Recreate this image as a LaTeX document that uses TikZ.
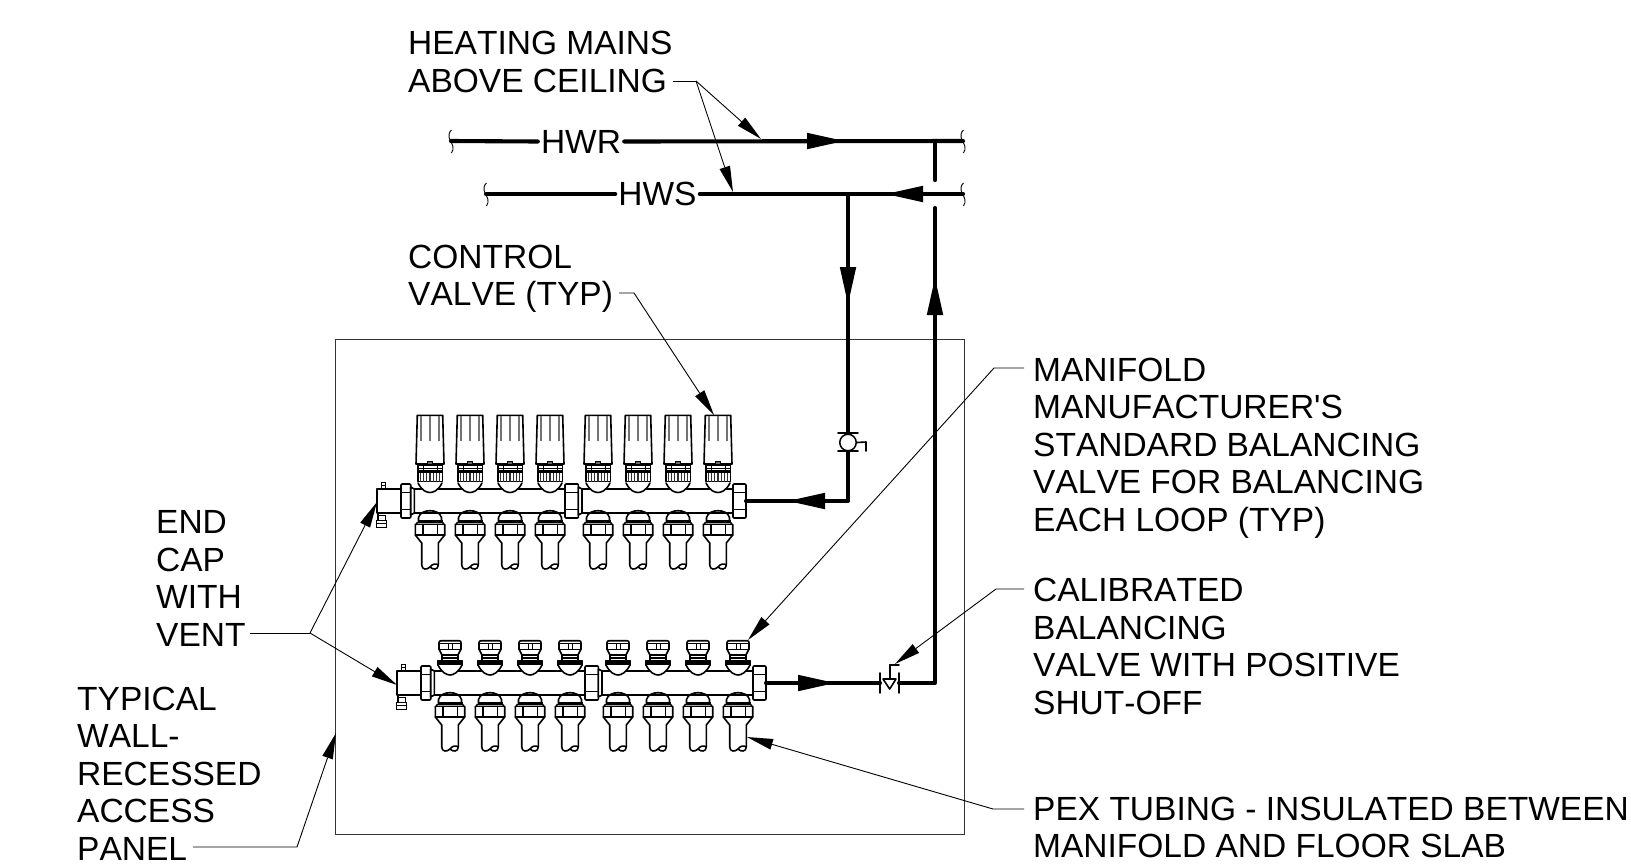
\documentclass[tikz,border=0pt]{standalone}
\usepackage{fontspec}
\setmainfont{Liberation Sans}[Ligatures=TeXOff,Kerning=Off]
\usetikzlibrary{arrows.meta}
\tikzset{
  x=1pt,y=-1pt,
  lbl/.style={anchor=base west,align=left,inner sep=0pt,font=\fontsize{33.5}{37.4}\selectfont},
  pipelbl/.style={inner xsep=3pt,inner ysep=0pt,font=\fontsize{33.5}{37.4}\selectfont},
  pipe/.style={line width=4.1pt,line cap=round,line join=round},
  flow/.style={pipe,-{Triangle[length=37pt,width=16.5pt,line width=0pt]}},
  leader/.style={line width=.9pt,line join=miter},
  leadtip/.style={leader,-{Triangle[length=26pt,width=11pt,line width=0pt]}},
  part/.style={line width=1.6pt,line join=round,line cap=round},
  fine/.style={line width=.9pt},
  wallbox/.style={line width=1pt,draw=black!80},
  pipebreak/.pic={\draw[fine] (.5,-11) .. controls (-2,-9) and (-3,-5) .. (-1,-1) .. controls (1,3) and (4,7) .. (.5,12);},
  tubeend/.pic={
    \fill[white] (-11,12.8) rectangle (11,20);
    \draw[part] (-11.5,20) -- (-11.5,16.5) .. controls (-10,11.5) and (-5,9.7) .. (0,9.7) .. controls (5,9.7) and (10,11.5) .. (11.5,16.5) -- (11.5,20);
    \draw[part,fill=white] (-14.7,24) -- (-12.5,21.5) -- (12.5,21.5) -- (14.7,24) -- (14.7,34) -- (8.3,42) -- (8.3,64)
      .. controls (8,69) and (3,69) .. (0,66) .. controls (-3,69) and (-8,69) .. (-8.3,64)
      -- (-8.3,42) -- (-14.7,34) -- cycle;
    \draw[part] (-14.7,23.5) -- (14.7,23.5) (-14.7,34) -- (14.7,34) (-7.3,23.5) -- (-7.3,34) (7.3,23.5) -- (7.3,34);
    \draw[line width=2.4pt] (-12.5,20.3) -- (12.5,20.3);
    \draw[part] (0,66) .. controls (2,63) and (6,62) .. (8.3,64);
  },
  ctrlvalve/.pic={
    \draw[part,fill=white] (-12.7,-85.7) -- (12.7,-85.7) -- (14,-37) -- (-14,-37) -- cycle;
    \foreach \r in {-9,0,9}{\draw[line width=1.6pt,draw=black!55] (\r,-85) -- (\r,-60);}
    \draw[fine,fill=black!60] (-2.5,-37) -- (-2.5,-40) -- (2.5,-40) -- (2.5,-37);
    \draw[part,fill=white] (-12.3,-35.5) rectangle (12.3,-19.5);
    \draw[line width=2.2pt] (-12.3,-29.5) -- (12.3,-29.5);
    \draw[line width=1.2pt] (-12.3,-32.5) -- (12.3,-32.5);
    \foreach \r in {-7,7}{\draw[fine] (\r,-35.5) -- (\r,-29.5);}
    \foreach \r in {-9.6,-6.4,-3.2,0,3.2,6.4,9.6}{\draw[line width=1.3pt,draw=black!80] (\r,-28.5) -- (\r,-19.5);}
    \fill[white] (-12,-18) .. controls (-8,-10) and (-3,-8.5) .. (0,-8.5) .. controls (3,-8.5) and (8,-10) .. (12,-18) -- cycle;
    \draw[part] (-12,-18) .. controls (-8,-10) and (-3,-8.5) .. (0,-8.5) .. controls (3,-8.5) and (8,-10) .. (12,-18);
  },
  capvalve/.pic={
    \draw[part,fill=white] (-9,-42.3) -- (9,-42.3) .. controls (10.5,-42.3) and (11,-41.5) .. (11,-40) -- (11,-34)
      -- (8,-28) -- (8,-22) -- (-8,-22) -- (-8,-28) -- (-11,-34) -- (-11,-40) .. controls (-11,-41.5) and (-10.5,-42.3) .. (-9,-42.3) -- cycle;
    \draw[part] (-11,-39.5) -- (11,-39.5) (-11,-33.5) -- (11,-33.5);
    \draw[fine] (-2,-39.5) -- (-2,-33.5) (2,-39.5) -- (2,-33.5);
    \draw[line width=1.8pt] (-8.5,-28) -- (8.5,-28) (-8.5,-25) -- (8.5,-25);
    \draw[part,fill=white] (-12.5,-22) -- (12.5,-22) -- (12.5,-18) -- (-12.5,-18) -- cycle;
    \draw[line width=2.8pt] (-12.5,-19.5) -- (12.5,-19.5);
    \fill[white] (-12,-18) .. controls (-8,-10) and (-3,-8) .. (0,-8) .. controls (3,-8) and (8,-10) .. (12,-18) -- cycle;
    \draw[part] (-12,-18) .. controls (-8,-10) and (-3,-8) .. (0,-8) .. controls (3,-8) and (8,-10) .. (12,-18);
  },
  manifoldbody/.pic={
    \draw[fine] (381,-13) rectangle (385.5,-18.5) (381,-16) -- (385.5,-16);
    \draw[fine] (376.5,19) rectangle (386,26) (376.5,22.5) -- (386,22.5);
    \draw[line width=1.6pt] (378,13) -- (378,18.5);
    \draw[fine] (378,14) rectangle (385,19);
    \draw[part,fill=white] (377,-12) rectangle (401,12);
    \foreach \n/\c in {401/414.3,565/582}{
      \draw[part,fill=white,rounded corners=1pt] (\n,-17) rectangle ({\c-3.6},17);
      \draw[part] (\n,-8.5) -- ({\c-3.6},-8.5) (\n,8.5) -- ({\c-3.6},8.5);
      \draw[part,fill=white] ({\c-3.6},-14) -- (\c,-12) -- (\c,12) -- ({\c-3.6},14) -- cycle;
    }
    \draw[part] (414.3,-12) -- (565,-12) (414.3,12) -- (565,12);
    \draw[part] (582,-12) -- (733,-12) (582,12) -- (733,12);
    \draw[part,fill=white,rounded corners=1pt] (733,-17) rectangle (746,17);
    \draw[part] (733,-8.5) -- (746,-8.5) (733,8.5) -- (746,8.5);
  }
}
\begin{document}
\begin{tikzpicture}
\useasboundingbox (0,0) rectangle (1631,865);

\node[wallbox,draw,inner sep=0pt,minimum width=629pt,minimum height=495pt,anchor=north west] (accesspanel) at (335,339) {};

\pic at (0,501) {manifoldbody};
\pic at (20,683) {manifoldbody};
\foreach \cx in {430,470,510,550,598,638,678,718}{
  \pic at (\cx,501) {tubeend};
  \pic at (\cx,501) {ctrlvalve};
  \pic at ({\cx+20},683) {tubeend};
  \pic at ({\cx+20},683) {capvalve};
}

\node[pipelbl] (HWR) at (581,141.5) {HWR};
\node[pipelbl] (HWS) at (657.5,194) {HWS};

\coordinate (hwrL) at (451,141);
\coordinate (hwrR) at (963,141);
\coordinate (hwsL) at (486,194);
\coordinate (hwsR) at (963,194);
\coordinate (hwrTip) at (844,141);
\coordinate (hwrBase) at (800,141);
\coordinate (hwsTip) at (886,194);
\coordinate (hwsBase) at (930,194);
\coordinate (dropTop) at (848,194);
\coordinate (dropBase) at (848,262);
\coordinate (dropTip) at (848,304);
\coordinate (bvUp) at (848,433);
\coordinate (bvDn) at (848,451);
\coordinate (corner1) at (848,501);
\coordinate (suppBase) at (830,501);
\coordinate (suppTip) at (788,501);
\coordinate (nutUp) at (746,501);
\coordinate (nutLo) at (766,683);
\coordinate (retBase) at (790,683);
\coordinate (retTip) at (835,683);
\coordinate (cbvL) at (880,683);
\coordinate (cbvR) at (899,683);
\coordinate (corner2) at (935,683);
\coordinate (upBase) at (935,320);
\coordinate (upTip) at (935,278);
\coordinate (riseTop) at (935,208);
\coordinate (crossBot) at (935,180);
\coordinate (crossTop) at (935,141);

\draw[pipe] (hwrL) -- (HWR.west);
\draw[pipe] (HWR.east) -- (hwrR);
\draw[flow] (hwrBase) -- (hwrTip);
\draw[pipe] (hwsL) -- (HWS.west);
\draw[pipe] (HWS.east) -- (hwsR);
\draw[flow] (hwsBase) -- (hwsTip);
\pic at (hwrL) {pipebreak};
\pic at (hwsL) {pipebreak};
\pic at (hwrR) {pipebreak};
\pic at (hwsR) {pipebreak};

\draw[pipe] (crossTop) -- (crossBot);
\draw[pipe] (dropTop) -- (bvUp);
\draw[flow] (dropBase) -- (dropTip);
\draw[pipe] (bvDn) -- (corner1) -- (nutUp);
\draw[flow] (suppBase) -- (suppTip);
\draw[pipe] (nutLo) -- (cbvL);
\draw[flow] (retBase) -- (retTip);
\draw[pipe] (cbvR) -- (corner2) -- (riseTop);
\draw[flow] (upBase) -- (upTip);

\node[circle,draw,line width=1.5pt,fill=white,minimum size=16.5pt,inner sep=0pt] (bvball) at (848,442.5) {};
\draw[part] (838,433) -- (858,433) (838,451) -- (858,451);
\coordinate (bvStem) at (866,442);
\coordinate (bvStemEnd) at (866,451);
\draw[part] (bvball.east) -- (bvStem) -- (bvStemEnd);

\coordinate (cvA) at (883,679);
\coordinate (cvB) at (896,679);
\coordinate (cvC) at (889.7,689);
\coordinate (cvS) at (889.7,665);
\coordinate (cvE) at (899,665);
\draw[part] (880,673) -- (880,693) (899,673) -- (899,693);
\draw[part] (cvA) -- (cvB) -- (cvC) -- cycle;
\draw[part] (cvS) -- (889.7,679);
\draw[part] (cvS) -- (cvE);

\node[lbl] (mains) at (408,92) {HEATING MAINS\\ABOVE CEILING};
\node[lbl] (ctrl) at (408,305.5) {CONTROL\\VALVE (TYP)};
\node[lbl] (mfr) at (1033,531) {MANIFOLD\\MANUFACTURER'S\\STANDARD BALANCING\\VALVE FOR BALANCING\\EACH LOOP (TYP)};
\node[lbl] (calib) at (1033,714) {CALIBRATED\\BALANCING\\VALVE WITH POSITIVE\\SHUT-OFF};
\node[lbl] (pex) at (1033,857.5) {PEX TUBING - INSULATED BETWEEN\\MANIFOLD AND FLOOR SLAB};
\node[lbl] (endcap) at (156,646) {END\\CAP\\WITH\\VENT};
\node[lbl] (typical) at (77,860) {TYPICAL\\WALL-\\RECESSED\\ACCESS\\PANEL};

\coordinate (m0) at (673,81); \coordinate (m1) at (696,81);
\coordinate (mt1) at (761,139); \coordinate (mt2) at (733,192);
\draw[leader] (m0) -- (m1);
\draw[leadtip] (m1) -- (mt1);
\draw[leadtip] (m1) -- (mt2);

\coordinate (c0) at (619,293); \coordinate (c1) at (634,293); \coordinate (ct) at (714,415);
\draw[leadtip] (c0) -- (c1) -- (ct);

\coordinate (f0) at (1024,368); \coordinate (f1) at (994,368); \coordinate (ft) at (748,640);
\draw[leadtip] (f0) -- (f1) -- (ft);

\coordinate (k0) at (1024,589); \coordinate (k1) at (996,589); \coordinate (kt) at (895,664);
\draw[leadtip] (k0) -- (k1) -- (kt);

\coordinate (p0) at (1024,809); \coordinate (p1) at (993,809); \coordinate (pt) at (747,737);
\draw[leadtip] (p0) -- (p1) -- (pt);

\coordinate (e0) at (250,633); \coordinate (e1) at (310,633);
\coordinate (et1) at (377,502); \coordinate (et2) at (397,685);
\draw[leader] (e0) -- (e1);
\draw[leadtip] (e1) -- (et1);
\draw[leadtip] (e1) -- (et2);

\coordinate (t0) at (193,847); \coordinate (t1) at (297,847); \coordinate (tt) at (336,733);
\draw[leadtip] (t0) -- (t1) -- (tt);
\end{tikzpicture}
\end{document}
